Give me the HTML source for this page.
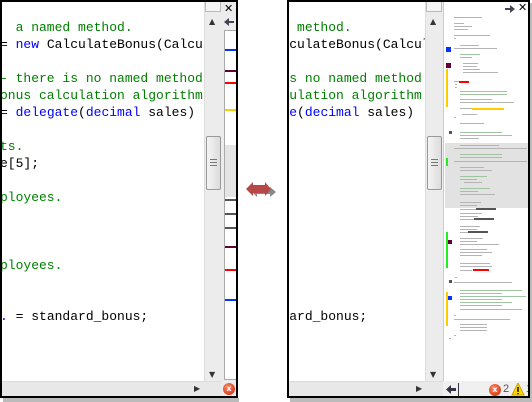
<!DOCTYPE html>
<html><head><meta charset="utf-8"><style>
*{margin:0;padding:0;box-sizing:border-box}
body{width:532px;height:402px;background:#fff;position:relative;overflow:hidden;font-family:"Liberation Mono",monospace}
.a{position:absolute}
.code{position:absolute;font-size:13px;line-height:17px;white-space:pre;color:#000}
.g{color:#008000}.b{color:#0000ff}
</style></head><body>
<div class="a" style="left:3px;top:398px;width:236px;height:4px;background:#bbb"></div>
<div class="a" style="left:290px;top:398px;width:242px;height:4px;background:#bbb"></div>
<div class="a" style="left:529px;top:3px;width:3px;height:397px;background:#bbb"></div>

<!-- LEFT PANEL -->
<div class="a" style="left:0;top:0;width:238px;height:398px;border:2px solid #000;overflow:hidden">
  <div class="code" style="left:-2px;top:17px"><span class="g">  a named method.</span>
= <span class="b">new</span> CalculateBonus(CalculateStandardBonus);

<span class="g">- there is no named method</span>
<span class="g">onus calculation algorithm</span>
= <span class="b">delegate</span>(<span class="b">decimal</span> sales)

<span class="g">ts.</span>
e[5];

<span class="g">ployees.</span>



<span class="g">ployees.</span>


<span class="b">.</span> = standard_bonus;</div>
  <div class="a" style="left:202px;top:0;width:18px;height:380px;background:#ececec;border-left:1px solid #ddd"></div>
  <div class="a" style="left:203px;top:0;width:16px;height:10px;background:#f4f4f4;border:1px solid #bbb;border-top:none"></div>
  <div class="a" style="left:207px;top:15px;font-size:8px;color:#333;font-family:'DejaVu Sans'">▲</div>
  <div class="a" style="left:204px;top:134px;width:15px;height:54px;background:linear-gradient(90deg,#f4f4f4,#dcdcdc);border:1px solid #999;border-radius:2px"></div>
  <div class="a" style="left:208px;top:157px;width:7px;height:7px;border-top:1px solid #777;border-bottom:1px solid #777"><div style="margin-top:2px;border-top:1px solid #777"></div></div>
  <div class="a" style="left:207px;top:368px;font-size:8px;color:#333;font-family:'DejaVu Sans'">▼</div>
  <div class="a" style="left:0;top:379px;width:219px;height:17px;background:#e8e8e8;border-top:1px solid #ddd"></div>
  <div class="a" style="left:192px;top:382px;font-size:8px;color:#333;font-family:'DejaVu Sans'">▶</div>
  <div class="a" style="left:219px;top:0;width:15px;height:396px;background:#ececec"></div>
  <div class="a" style="left:222px;top:0px;font-size:11px;font-weight:bold;font-family:'DejaVu Sans'">✕</div>
  <svg class="a" style="left:222px;top:15px" width="11" height="10"><polygon points="0,5 5,1 5,4 10,4 10,6 5,6 5,9" fill="#445"/></svg>
  <div class="a" style="left:222px;top:28px;width:13px;height:350px;background:#fff;border:1px solid #aaa"></div>
  <div class="a" style="left:223px;top:143px;width:11px;height:52px;background:#e4e4e4"></div>
  <div class="a" style="left:223px;top:47px;width:11px;height:2px;background:#0033ff"></div>
  <div class="a" style="left:223px;top:68px;width:11px;height:2px;background:#660033"></div>
  <div class="a" style="left:223px;top:80px;width:11px;height:2px;background:#ff0000"></div>
  <div class="a" style="left:223px;top:107px;width:11px;height:2px;background:#ffcc00"></div>
  <div class="a" style="left:223px;top:197px;width:11px;height:2px;background:#555"></div>
  <div class="a" style="left:223px;top:211px;width:11px;height:2px;background:#555"></div>
  <div class="a" style="left:223px;top:225px;width:11px;height:2px;background:#555"></div>
  <div class="a" style="left:223px;top:244px;width:11px;height:2px;background:#660033"></div>
  <div class="a" style="left:223px;top:267px;width:11px;height:2px;background:#ff0000"></div>
  <div class="a" style="left:223px;top:297px;width:11px;height:2px;background:#0033ff"></div>
  <div class="a" style="left:221px;top:381px;width:12px;height:12px;border-radius:50%;background:radial-gradient(circle at 40% 35%,#ff8866,#cc2200);color:#fff;font-size:8px;text-align:center;line-height:12px;font-family:'DejaVu Sans';font-weight:bold">x</div>
</div>

<svg class="a" style="left:240px;top:178px" width="40" height="24">
  <polygon points="9,10 14,5 14,8 27,8 27,5 33,10 27,15 27,12 14,12 14,15" fill="#888" transform="translate(3,4)"/>
  <polygon points="6,11 13,4 13,7 25,7 25,4 31,11 25,18 25,15 13,15 13,18" fill="#b84848"/>
</svg>

<!-- RIGHT PANEL -->
<div class="a" style="left:287px;top:0;width:243px;height:398px;border:2px solid #000;overflow:hidden">
  <div class="code" style="left:-70px;top:17px"><span class="g">  a named method.</span>
= <span class="b">new</span> CalculateBonus(CalculateStandardBonus);

<span class="g">- there is no named method</span>
<span class="g">onus calculation algorithm</span>
= <span class="b">delegate</span>(<span class="b">decimal</span> sales)

<span class="g">ts.</span>
e[5];

<span class="g">ployees.</span>



<span class="g">ployees.</span>


<span class="b">.</span> = standard_bonus;</div>
  <div class="a" style="left:136px;top:0;width:18px;height:380px;background:#ececec;border-left:1px solid #ddd"></div>
  <div class="a" style="left:137px;top:0;width:16px;height:10px;background:#f4f4f4;border:1px solid #bbb;border-top:none"></div>
  <div class="a" style="left:141px;top:15px;font-size:8px;color:#333;font-family:'DejaVu Sans'">▲</div>
  <div class="a" style="left:138px;top:134px;width:15px;height:54px;background:linear-gradient(90deg,#f4f4f4,#dcdcdc);border:1px solid #999;border-radius:2px"></div>
  <div class="a" style="left:142px;top:157px;width:7px;height:7px;border-top:1px solid #777;border-bottom:1px solid #777"><div style="margin-top:2px;border-top:1px solid #777"></div></div>
  <div class="a" style="left:141px;top:368px;font-size:8px;color:#333;font-family:'DejaVu Sans'">▼</div>
  <div class="a" style="left:0;top:379px;width:154px;height:17px;background:#e8e8e8;border-top:1px solid #ddd"></div>
  <div class="a" style="left:127px;top:382px;font-size:8px;color:#333;font-family:'DejaVu Sans'">▶</div>
  <div class="a" style="left:154px;top:0;width:87px;height:380px;background:#fff;border-left:1px solid #ccc"></div>
  <svg class="a" style="left:-287px;top:0" width="532" height="402">
    <rect x="443" y="141" width="86" height="65" fill="#e2e2e2"/>
    <g fill="#9fc49f">
      <rect x="452" y="15" width="28" height="1"/><rect x="458" y="43" width="19" height="1"/><rect x="458" y="52" width="20" height="1"/>
      <rect x="458" y="89" width="47" height="1"/><rect x="458" y="92" width="47" height="1"/><rect x="458" y="97" width="32" height="1"/>
      <rect x="458" y="130" width="42" height="1"/><rect x="458" y="133" width="52" height="1"/><rect x="458" y="143" width="39" height="1"/>
      <rect x="458" y="152" width="42" height="1"/><rect x="458" y="155" width="42" height="1"/><rect x="458" y="165" width="24" height="1"/>
      <rect x="458" y="174" width="27" height="1"/><rect x="458" y="186" width="30" height="1"/>
      <rect x="458" y="247" width="27" height="1"/><rect x="458" y="261" width="30" height="1"/>
      <rect x="458" y="288" width="62" height="1"/><rect x="458" y="291" width="42" height="1"/><rect x="458" y="294" width="66" height="1"/>
      <rect x="458" y="297" width="42" height="1"/><rect x="458" y="300" width="52" height="1"/><rect x="458" y="303" width="42" height="1"/>
    </g>
    <g fill="#b4b4b4">
      <rect x="452" y="21" width="10" height="1"/><rect x="452" y="24" width="18" height="1"/><rect x="452" y="27" width="14" height="1"/>
      <rect x="452" y="33" width="36" height="1"/><rect x="452" y="36" width="2" height="1"/><rect x="452" y="46" width="43" height="1"/>
      <rect x="458" y="55" width="12" height="1"/><rect x="461" y="61" width="15" height="1"/><rect x="461" y="64" width="14" height="1"/>
      <rect x="461" y="67" width="17" height="1"/><rect x="461" y="70" width="35" height="1"/><rect x="452" y="79" width="5" height="1"/>
      <rect x="453" y="82" width="2" height="1"/><rect x="453" y="85" width="2" height="1"/><rect x="458" y="100" width="54" height="1"/>
      <rect x="458" y="106" width="12" height="1"/><rect x="460" y="112" width="15" height="1"/><rect x="452" y="115" width="2" height="1"/>
      <rect x="458" y="121" width="24" height="1"/><rect x="458" y="136" width="19" height="1"/><rect x="452" y="146" width="73" height="1"/>
      <rect x="452" y="159" width="73" height="1"/><rect x="458" y="168" width="32" height="1"/><rect x="458" y="177" width="17" height="1"/>
      <rect x="462" y="180" width="18" height="1"/><rect x="458" y="189" width="18" height="1"/><rect x="458" y="192" width="35" height="1"/>
      <rect x="458" y="200" width="21" height="1"/><rect x="458" y="203" width="17" height="1"/><rect x="458" y="207" width="16" height="1"/>
      <rect x="458" y="211" width="22" height="1"/><rect x="458" y="214" width="18" height="1"/><rect x="458" y="217" width="14" height="1"/>
      <rect x="458" y="224" width="20" height="1"/><rect x="458" y="227" width="17" height="1"/><rect x="458" y="230" width="8" height="1"/>
      <rect x="458" y="236" width="23" height="1"/><rect x="458" y="239" width="17" height="1"/><rect x="458" y="242" width="39" height="1"/>
      <rect x="458" y="250" width="32" height="1"/><rect x="458" y="253" width="22" height="1"/><rect x="458" y="264" width="32" height="1"/>
      <rect x="458" y="268" width="12" height="1"/><rect x="453" y="275" width="2" height="1"/><rect x="452" y="280" width="58" height="1"/>
      <rect x="458" y="307" width="62" height="1"/><rect x="452" y="313" width="2" height="1"/><rect x="452" y="317" width="56" height="1"/>
      <rect x="458" y="322" width="27" height="1"/><rect x="458" y="325" width="27" height="1"/><rect x="458" y="328" width="27" height="1"/>
      <rect x="452" y="333" width="2" height="1"/><rect x="447" y="336" width="2" height="1"/>
    </g>
    <g fill="#555"><rect x="474" y="206" width="20" height="2"/><rect x="472" y="216" width="20" height="2"/><rect x="466" y="229" width="20" height="2"/>
      <rect x="447" y="129" width="3" height="3"/><rect x="447" y="278" width="3" height="3"/></g>
    <rect x="457" y="79" width="10" height="2" fill="#ff0000"/>
    <rect x="470" y="106" width="32" height="2" fill="#ffcc00"/>
    <rect x="471" y="267" width="16" height="2" fill="#ff0000"/>
    <rect x="444" y="45" width="5" height="5" fill="#0033ff"/>
    <rect x="444" y="61" width="5" height="5" fill="#660033"/>
    <rect x="444" y="67" width="2" height="38" fill="#ffcc00"/>
    <rect x="444" y="156" width="2" height="8" fill="#22ee22"/>
    <rect x="444" y="230" width="2" height="36" fill="#22ee22"/>
    <rect x="446" y="238" width="4" height="4" fill="#660033"/>
    <rect x="444" y="290" width="2" height="34" fill="#ffcc00"/>
    <rect x="446" y="294" width="4" height="4" fill="#0033ff"/>
  </svg>
  <svg class="a" style="left:216px;top:2px" width="11" height="10"><polygon points="10,5 5,1 5,4 0,4 0,6 5,6 5,9" fill="#445"/></svg>
  <div class="a" style="left:229px;top:-1px;font-size:11px;font-weight:bold;font-family:'DejaVu Sans'">✕</div>
  <div class="a" style="left:154px;top:379px;width:87px;height:17px;background:#f0f0f0"></div>
  <svg class="a" style="left:157px;top:382px" width="11" height="11"><polygon points="0,5.5 5,1 5,4 10,4 10,7 5,7 5,10" fill="#334"/></svg>
  <div class="a" style="left:169px;top:381px;width:1px;height:13px;background:#334"></div>
  <div class="a" style="left:200px;top:382px;width:12px;height:12px;border-radius:50%;background:radial-gradient(circle at 40% 35%,#ff8866,#cc2200);color:#fff;font-size:8px;text-align:center;line-height:12px;font-family:'DejaVu Sans';font-weight:bold">x</div>
  <div class="a" style="left:214px;top:381px;font-size:11px;color:#555;font-family:'Liberation Sans'">2</div>
  <svg class="a" style="left:222px;top:381px" width="14" height="13"><polygon points="7,0 13,12 1,12" fill="#ffd800" stroke="#c8a000"/><rect x="6.3" y="4" width="1.4" height="5" fill="#000"/><rect x="6.3" y="10" width="1.4" height="1.2" fill="#000"/></svg>
  <div class="a" style="left:237px;top:381px;font-size:11px;color:#555;font-family:'Liberation Sans'">1</div>
</div>
</body></html>
